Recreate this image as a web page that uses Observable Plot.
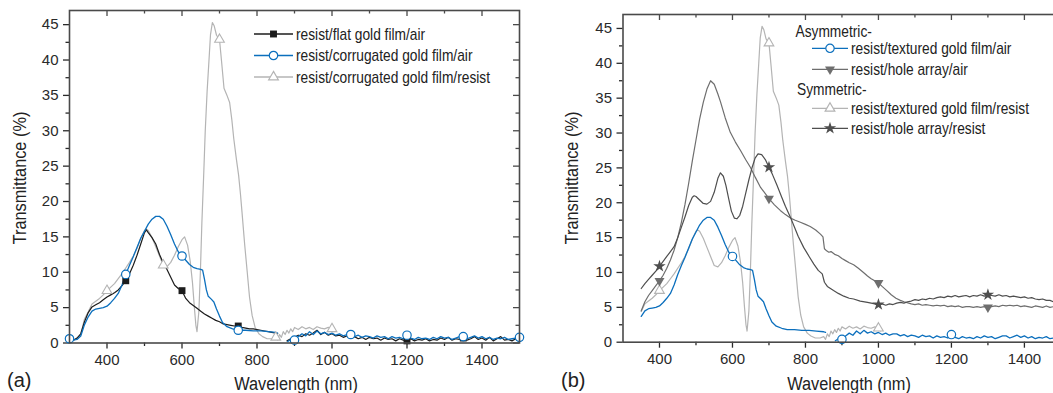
<!DOCTYPE html>
<html>
<head>
<meta charset="utf-8">
<script src="https://cdn.jsdelivr.net/npm/d3@7"></script>
<script src="https://cdn.jsdelivr.net/npm/@observablehq/plot@0.6"></script>
<style>
  html, body { margin: 0; padding: 0; background: #fff; }
  body { width: 1053px; height: 393px; overflow: hidden; position: relative; }
  .panel { position: absolute; top: 0; }
  .panel svg { max-width: none !important; overflow: visible; }
  #overlay { position: absolute; left: 0; top: 0; pointer-events: none; }
  #overlay text { font-family: "Liberation Sans", Arial, sans-serif; fill: #222; }
</style>
</head>
<body>
<div id="pa" class="panel" style="left:0px"></div>
<div id="pb" class="panel" style="left:530px"></div>
<svg id="overlay" width="1053" height="393"></svg>
<script>
// ---------------- DATA ----------------
// Shared axis ticks
const xMajor = [400, 600, 800, 1000, 1200, 1400];
const xMinor = [500, 700, 900, 1100, 1300];
const yMajor = [0, 5, 10, 15, 20, 25, 30, 35, 40, 45];
const yMinor = [2.5, 7.5, 12.5, 17.5, 22.5, 27.5, 32.5, 37.5, 42.5];

// resist / flat gold film / air  (black, squares)
const flatWl = [300,310,320,330,340,350,360,370,380,390,400,410,420,430,440,450,460,470,480,490,500,505,510,520,530,540,550,560,570,580,590,600,610,620,630,640,650,660,670,680,690,700,710,720,730,740,750,760,770,780,790,800,810,820,830,840,850,855,
  868,
  880,890,900,910,920,930,940,950,960,970,980,990,1000,1010,1020,1030,1040,1050,1060,1070,1080,1090,1100,1110,1120,1130,1140,1150,1160,1170,1180,1190,1200,1210,1220,1230,1240,1250,1260,1270,1280,1290,1300,1310,1320,1330,1340,1350,1360,1370,1380,1390,1400,1410,1420,1430,1440,1450,1460,1470,1480,1490,1500];
const flatT = [0.3,0.4,0.7,1.3,3.0,4.3,5.1,5.4,5.7,6.1,6.5,6.8,7.1,7.5,8.1,8.8,9.8,11.0,12.4,14.0,15.6,16.0,15.6,14.9,14.0,12.5,11.3,10.4,9.3,8.2,7.7,7.4,6.3,5.7,5.3,4.9,4.5,4.1,3.8,3.5,3.2,3.0,2.7,2.6,2.5,2.4,2.4,2.2,2.1,2.0,2.0,1.9,1.8,1.7,1.6,1.5,1.4,1.3,
  null,
  0.3,0.6,0.8,1.1,0.9,1.3,1.1,1.4,1.8,1.2,1.5,1.1,1.3,1.0,1.1,0.8,1.0,0.7,0.9,0.6,0.8,0.5,0.8,0.6,0.7,0.4,0.7,0.5,0.6,0.3,0.6,0.4,0.3,0.6,0.3,0.5,0.4,0.6,0.3,0.5,0.4,0.7,0.5,0.8,0.4,0.6,0.5,0.7,0.4,0.6,0.9,0.5,0.7,0.4,0.8,0.3,0.6,0.9,0.4,0.5,0.3,0.6,0.4];

// resist / corrugated (textured) gold film / air  (blue, circles)
const corrAirWl = [300,310,320,330,340,350,360,370,380,390,400,410,420,430,440,450,460,470,480,490,500,510,520,530,540,550,560,570,580,590,600,610,620,630,640,650,655,660,665,670,678,685,692,700,708,720,735,750,770,790,810,830,850,855,
  868,
  882,890,900,910,920,930,940,950,960,970,980,990,1000,1010,1020,1030,1040,1050,1060,1070,1080,1090,1100,1110,1120,1130,1140,1150,1160,1170,1180,1190,1200,1210,1220,1230,1240,1250,1260,1270,1280,1290,1300,1310,1320,1330,1340,1350,1360,1370,1380,1390,1400,1410,1420,1430,1440,1450,1460,1470,1480,1490,1500];
const corrAirT = [0.6,0.4,0.5,1.0,2.6,3.7,4.5,4.8,4.9,5.0,5.2,5.7,6.3,7.0,8.2,9.7,11.0,12.2,13.5,14.8,15.8,16.8,17.5,17.9,17.9,17.5,16.5,15.3,14.0,12.9,12.3,11.7,11.1,10.7,10.5,10.4,10.3,9.0,7.5,6.6,6.2,5.8,4.8,3.8,2.9,2.3,2.0,1.8,1.8,1.7,1.7,1.6,1.5,1.4,
  null,
  0.2,0.5,0.4,0.9,1.3,1.0,1.6,1.2,1.7,1.3,1.5,1.2,1.4,1.1,1.3,1.0,1.2,1.2,0.9,1.1,0.8,1.0,0.9,0.7,1.0,0.8,0.9,0.6,0.9,0.7,0.8,0.6,1.1,0.7,0.5,0.8,0.6,0.7,0.5,0.8,0.6,0.9,0.7,0.8,0.5,0.7,0.9,0.9,0.6,0.8,1.0,0.7,0.9,0.6,0.8,0.5,0.7,0.6,0.8,0.5,0.6,0.7,0.8];

// resist / corrugated (textured) gold film / resist  (light grey, triangles)
const corrResWl = [300,310,320,330,340,350,360,370,380,390,400,410,420,430,440,450,460,470,480,490,500,505,510,520,530,540,550,560,570,580,590,600,607,615,622,628,633,637,640,645,649,653,658,662,667,672,676,681,686,692,700,706,712,720,727,733,738,745,751,756,760,767,774,780,787,795,805,815,827,840,850,855,860,865,870,875,880,885,890,895,900,910,920,930,940,950,960,970,980,990,1000,1005];
const corrResT = [0.3,0.4,0.6,1.2,3.4,4.4,5.5,5.9,6.3,6.8,7.4,7.9,8.4,9.1,9.8,10.6,11.4,12.3,13.4,14.8,15.9,16.1,15.9,14.9,13.6,12.3,11.0,10.8,11.4,12.4,13.6,14.6,15.0,13.8,11.5,8.5,5.0,2.5,1.6,4.5,10.0,17.0,24.0,30.0,35.6,40.0,43.6,45.3,44.8,43.5,42.9,39.5,36.0,35.0,34.0,31.5,28.9,26.0,23.7,21.0,18.5,14.0,10.0,6.5,3.9,2.2,1.3,0.9,0.6,0.6,0.8,0.4,1.2,0.8,1.6,1.2,1.8,1.4,2.0,1.6,2.2,1.9,2.3,2.0,2.2,1.9,2.3,2.1,2.0,2.2,2.0,1.6];

// resist / hole array / air  (mid grey, filled down-triangles)
const holeAirWl = [350,360,370,380,390,400,410,420,430,440,450,460,470,480,490,500,510,520,530,540,550,560,567,580,594,608,622,636,649,663,677,690,700,715,731,745,759,772,786,800,813,828,841,848,852,858,864,870,880,890,900,910,920,932,945,959,970,980,990,1000,1010,1023,1035,1048,1060,1070,1083,1090,1100,1110,1120,1130,1140,1150,1160,1170,1180,1190,1200,1210,1220,1230,1240,1250,1260,1270,1280,1290,1300,1310,1320,1330,1340,1350,1360,1370,1380,1390,1400,1410,1420,1430,1440,1450,1460,1470,1480,1490,1500];
const holeAirT = [4.5,5.8,6.7,7.4,8.1,8.8,9.6,10.6,11.8,13.2,15.0,17.2,19.8,22.8,26.0,29.0,32.0,34.4,36.3,37.5,37.0,35.6,34.5,32.2,30.1,28.7,27.5,26.2,25.1,23.6,22.2,21.3,20.6,19.7,18.9,18.3,17.8,17.5,17.2,16.9,16.6,16.1,15.5,15.1,13.4,13.1,12.9,13.0,12.6,12.4,12.0,11.7,11.4,11.1,10.6,10.0,9.5,9.1,8.8,8.5,8.0,7.4,6.8,6.3,6.0,5.8,5.6,5.5,5.4,5.5,5.3,5.4,5.3,5.2,5.3,5.2,5.3,5.1,5.2,5.1,5.2,5.0,5.1,5.1,5.0,5.1,5.0,5.1,5.0,5.1,5.2,5.1,5.3,5.2,5.3,5.2,5.3,5.1,5.2,5.1,5.0,5.2,5.1,5.0,5.2,5.0,5.1,5.2,5.0];

// resist / hole array / resist  (dark grey, stars)
const holeResWl = [350,360,370,380,390,400,410,420,430,440,450,460,470,480,490,495,500,510,520,530,540,550,560,567,575,582,590,597,605,612,620,628,636,645,654,662,670,680,690,700,710,722,735,745,759,770,780,795,810,823,835,846,852,860,877,890,905,920,932,950,970,990,1000,1010,1020,1030,1040,1050,1060,1070,1080,1090,1100,1110,1120,1130,1140,1150,1160,1170,1180,1190,1200,1210,1220,1230,1240,1250,1260,1270,1280,1290,1300,1310,1320,1330,1340,1350,1360,1370,1380,1390,1400,1410,1420,1430,1440,1450,1460,1470,1480,1490,1500];
const holeResT = [7.7,8.4,9.0,9.6,10.2,10.9,11.6,12.3,13.0,13.7,15.0,16.5,18.0,19.6,20.8,21.0,20.9,20.4,19.9,19.8,20.2,21.5,23.5,24.3,23.8,22.5,20.5,18.8,17.8,17.7,18.2,19.5,21.3,23.3,25.1,26.4,27.0,26.9,26.2,25.1,24.0,22.5,20.8,19.5,17.9,16.5,15.2,13.6,12.3,11.2,10.3,9.8,8.6,8.0,7.4,7.0,6.6,6.3,6.2,5.9,5.7,5.5,5.4,5.5,5.3,5.5,5.4,5.6,5.7,5.6,5.8,5.9,6.1,6.0,6.2,6.1,6.3,6.2,6.4,6.5,6.4,6.6,6.5,6.7,6.5,6.6,6.7,6.5,6.7,6.6,6.8,6.6,6.8,6.7,6.6,6.8,6.6,6.7,6.5,6.6,6.5,6.4,6.5,6.3,6.4,6.2,6.1,6.2,6.0,6.0,5.8,5.9,5.6];

// marker wavelengths
const flatMarksA = [450, 600, 750, 1200, 1350];
const corrAirMarksA = [300, 450, 600, 750, 900, 1050, 1200, 1350, 1500];
const corrResMarksA = [400, 550, 700, 850, 1000];
const corrAirMarksB = [600, 900, 1200, 1500];
const corrResMarksB = [400, 700, 1000];
const holeAirMarksB = [400, 700, 1000, 1300];
const holeResMarksB = [400, 700, 1000, 1300];

// labels
const legendA = ["resist/flat gold film/air", "resist/corrugated gold film/air", "resist/corrugated gold film/resist"];
const legendB = ["Asymmetric-", "resist/textured gold film/air", "resist/hole array/air", "Symmetric-", "resist/textured gold film/resist", "resist/hole array/resist"];
const xTitle = "Wavelength (nm)";
const yTitle = "Transmittance (%)";

// ---------------- BUILD ----------------
const zip = (w, t) => w.map((x, i) => ({x, y: t[i]}));
const pick = (rows, marks) => rows.filter(d => marks.includes(d.x) && d.y != null);

const flat = zip(flatWl, flatT);
const corrAir = zip(corrAirWl, corrAirT);
const corrRes = zip(corrResWl, corrResT);
const holeAir = zip(holeAirWl, holeAirT);
const holeRes = zip(holeResWl, holeResT);

const C = {
  black: "#1c1c1c",
  blue: "#0b6fbd",
  light: "#b4b4b4",
  holeAir: "#6e6e6e",
  holeRes: "#4e4e4e",
  frame: "#4a4a4a"
};

const SYM = {square: d3.symbolSquare, circle: d3.symbolCircle, triangle: d3.symbolTriangle, star: d3.symbolStar};
const R = {square: 3.9, circle: 4.2, triangle: 3.6, down: 3.7, star: 3.9};
const CONDENSE = 0.86; // emulates the condensed sans of the original

function frameMarks(W, H, ml, mr, mt, mb) {
  const fw = W - ml - mr, fh = H - mt - mb;
  return [
    Plot.axisX({ticks: xMajor, tickSize: 6, tickPadding: 5, tickFormat: d => String(d), label: null, strokeWidth: 1.3, fontSize: 15}),
    Plot.axisX({ticks: xMinor, tickSize: 3.5, tickFormat: () => "", label: null, strokeWidth: 1.3}),
    Plot.axisY({ticks: yMajor, tickSize: 6, tickPadding: 5, tickFormat: d => String(d), label: null, strokeWidth: 1.3, fontSize: 15}),
    Plot.axisY({ticks: yMinor, tickSize: 3.5, tickFormat: () => "", label: null, strokeWidth: 1.3}),
    Plot.tickX(xMajor, {x: d => d, insetBottom: fh - 6, stroke: C.frame, strokeWidth: 1.3}),
    Plot.tickX(xMinor, {x: d => d, insetBottom: fh - 3.5, stroke: C.frame, strokeWidth: 1.3}),
    Plot.tickY(yMajor, {y: d => d, insetLeft: fw - 6, stroke: C.frame, strokeWidth: 1.3}),
    Plot.tickY(yMinor, {y: d => d, insetLeft: fw - 3.5, stroke: C.frame, strokeWidth: 1.3})
  ];
}

function makePanel(cfg, marks) {
  const {W, H, ml, mr, mt, mb} = cfg;
  return Plot.plot({
    width: W, height: H,
    marginLeft: ml, marginRight: mr, marginTop: mt, marginBottom: mb,
    x: {domain: [300, 1500]},
    y: {domain: [0, 47]},
    style: {fontFamily: '"Liberation Sans", Arial, sans-serif', color: "#2a2a2a", background: "transparent", overflow: "visible"},
    marks: [
      ...frameMarks(W, H, ml, mr, mt, mb),
      ...marks,
      Plot.frame({stroke: C.frame, strokeWidth: 1.6})
    ]
  });
}

const lineOpts = (stroke, sw = 1.2) => ({x: "x", y: "y", stroke, strokeWidth: sw, curve: "linear"});

// Panel (a)
const cfgA = {W: 530, H: 393, ml: 69, mr: 11, mt: 10, mb: 50.5};
const plotA = makePanel(cfgA, [
  Plot.line(corrRes, lineOpts(C.light, 1.2)),
  Plot.line(flat, lineOpts(C.black, 1.2)),
  Plot.line(corrAir, lineOpts(C.blue, 1.3)),
  Plot.dot(pick(corrRes, corrResMarksA), {x: "x", y: "y", symbol: "triangle", r: R.triangle, stroke: C.light, fill: "white", strokeWidth: 1.1}),
  Plot.dot(pick(flat, flatMarksA), {x: "x", y: "y", symbol: "square", r: R.square, fill: C.black, stroke: "none"}),
  Plot.dot(pick(corrAir, corrAirMarksA), {x: "x", y: "y", symbol: "circle", r: R.circle, stroke: C.blue, fill: "white", strokeWidth: 1.2})
]);
document.getElementById("pa").appendChild(plotA);

// Panel (b)
const cfgB = {W: 545, H: 393, ml: 92.5, mr: 14.6, mt: 14, mb: 51.3};
const plotB = makePanel(cfgB, [
  Plot.line(corrRes.filter(d => d.x >= 350), lineOpts(C.light, 1.2)),
  Plot.line(holeAir, lineOpts(C.holeAir, 1.2)),
  Plot.line(holeRes, lineOpts(C.holeRes, 1.2)),
  Plot.line(corrAir.filter(d => d.x >= 350), lineOpts(C.blue, 1.3)),
  Plot.dot(pick(corrRes, corrResMarksB), {x: "x", y: "y", symbol: "triangle", r: R.triangle, stroke: C.light, fill: "white", strokeWidth: 1.1}),
  Plot.dot(pick(holeAir, holeAirMarksB), {x: "x", y: "y", symbol: "triangle", rotate: 180, r: R.down, fill: C.holeAir, stroke: "none"}),
  Plot.dot(pick(holeRes, holeResMarksB), {x: "x", y: "y", symbol: "star", r: R.star, fill: C.holeRes, stroke: "none"}),
  Plot.dot(pick(corrAir, corrAirMarksB), {x: "x", y: "y", symbol: "circle", r: R.circle, stroke: C.blue, fill: "white", strokeWidth: 1.2})
]);
document.getElementById("pb").appendChild(plotB);

// ---------------- OVERLAY: titles, legends, panel letters ----------------
const ov = d3.select("#overlay");

function title(x, y, txt, rotate, size) {
  ov.append("text")
    .attr("transform", `translate(${x},${y})` + (rotate ? " rotate(-90)" : "") + ` scale(${CONDENSE},1)`)
    .attr("text-anchor", "middle")
    .attr("font-size", size)
    .text(txt);
}
title(25.5, 178, yTitle, true, 19);
title(296, 390, xTitle, false, 19);
title(577.5, 178, yTitle, true, 19);
title(849, 390, xTitle, false, 19);

ov.append("text").attr("x", 7).attr("y", 387).attr("font-size", 20).text("(a)");
ov.append("text").attr("x", 561).attr("y", 387).attr("font-size", 20).text("(b)");

function legText(x, y, label) {
  ov.append("text")
    .attr("transform", `translate(${x},${y}) scale(${CONDENSE},1)`)
    .attr("dy", "0.36em").attr("font-size", 16).text(label);
}
function legendRow(x0, x1, y, tx, stroke, sym, r, fill, mstroke, rot, label) {
  const g = ov.append("g");
  g.append("line").attr("x1", x0).attr("x2", x1).attr("y1", y).attr("y2", y).attr("stroke", stroke).attr("stroke-width", 1.3);
  g.append("path")
    .attr("d", d3.symbol(SYM[sym], Math.PI * r * r)())
    .attr("transform", `translate(${(x0 + x1) / 2},${y})` + (rot ? ` rotate(${rot})` : ""))
    .attr("fill", fill).attr("stroke", mstroke).attr("stroke-width", 1.2);
  legText(tx, y, label);
}
// legend (a)
legendRow(254, 293, 34, 296, C.black, "square", R.square, C.black, "none", 0, legendA[0]);
legendRow(254, 293, 55.5, 296, C.blue, "circle", R.circle, "white", C.blue, 0, legendA[1]);
legendRow(254, 293, 77, 296, C.light, "triangle", R.triangle, "white", C.light, 0, legendA[2]);

// legend (b)
legText(795.5, 31.5, legendB[0]);
legendRow(812, 848, 48.3, 851, C.blue, "circle", R.circle, "white", C.blue, 0, legendB[1]);
legendRow(812, 848, 69.3, 851, C.holeAir, "triangle", R.down, C.holeAir, "none", 180, legendB[2]);
legText(797, 89, legendB[3]);
legendRow(812, 848, 108.3, 851, C.light, "triangle", R.triangle, "white", C.light, 0, legendB[4]);
legendRow(812, 848, 128.3, 851, C.holeRes, "star", R.star, C.holeRes, "none", 0, legendB[5]);
</script>
</body>
</html>
